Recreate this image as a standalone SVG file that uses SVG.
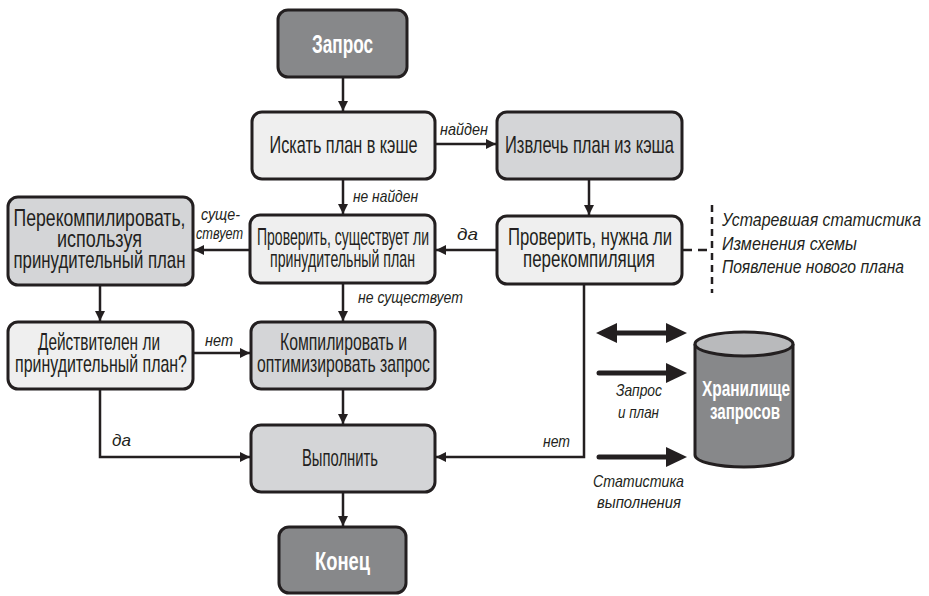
<svg xmlns="http://www.w3.org/2000/svg" width="929" height="596" viewBox="0 0 929 596">
<defs>
<style>
.box{stroke:#231f20;stroke-width:3;}
.light{fill:#efefef;}
.mid{fill:#d4d5d7;}
.dark{fill:#87888a;}
.t{font-family:"Liberation Sans",Arial,sans-serif;font-size:23px;fill:#231f20;text-anchor:middle;}
.tb{font-family:"Liberation Sans",Arial,sans-serif;font-size:25px;font-weight:bold;fill:#ffffff;text-anchor:middle;}
.lbl{font-family:"Liberation Sans",Arial,sans-serif;font-size:17px;font-style:italic;fill:#231f20;}
.note{font-family:"Liberation Sans",Arial,sans-serif;font-size:19px;font-style:italic;fill:#231f20;}
.c{fill:none;stroke:#231f20;stroke-width:2.5;}
.thick{fill:none;stroke:#231f20;stroke-width:5;stroke-linecap:round;}
</style>
<marker id="ah" markerUnits="userSpaceOnUse" markerWidth="12" markerHeight="12" viewBox="0 0 12 12" refX="11" refY="6" orient="auto">
<path d="M1,1 L11,6 L1,11 Z" fill="#231f20"/>
</marker>
</defs>
<rect width="929" height="596" fill="#ffffff"/>

<g id="connectors">
<line class="c" x1="343" y1="78" x2="343" y2="111" marker-end="url(#ah)"/>
<line class="c" x1="436" y1="144" x2="496" y2="144" marker-end="url(#ah)"/>
<line class="c" x1="343" y1="180" x2="343" y2="214" marker-end="url(#ah)"/>
<line class="c" x1="589" y1="180" x2="589" y2="215" marker-end="url(#ah)"/>
<line class="c" x1="496" y1="250" x2="436" y2="250" marker-end="url(#ah)"/>
<line class="c" x1="249" y1="250" x2="194" y2="250" marker-end="url(#ah)"/>
<line class="c" x1="100" y1="286" x2="100" y2="321" marker-end="url(#ah)"/>
<line class="c" x1="343" y1="284" x2="343" y2="321" marker-end="url(#ah)"/>
<line class="c" x1="194" y1="353" x2="250" y2="353" marker-end="url(#ah)"/>
<line class="c" x1="343" y1="390" x2="343" y2="424" marker-end="url(#ah)"/>
<path class="c" d="M100,390 V457 H250" marker-end="url(#ah)"/>
<path class="c" d="M584,285 V457 H436" marker-end="url(#ah)"/>
<line class="c" x1="343" y1="493" x2="343" y2="526" marker-end="url(#ah)"/>
<line x1="683" y1="250" x2="712" y2="250" stroke="#231f20" stroke-width="2.5" stroke-dasharray="9 6"/>
<line x1="712" y1="205" x2="712" y2="293" stroke="#231f20" stroke-width="2.5" stroke-dasharray="7 5"/>
<path d="M596,333 L617,323 L617,330.5 L666,330.5 L666,323 L687,333 L666,343 L666,335.5 L617,335.5 L617,343 Z" fill="#231f20"/>
<line class="thick" x1="599" y1="373" x2="668" y2="373"/>
<path d="M666,363 L687,373 L666,383 Z" fill="#231f20"/>
<line class="thick" x1="599" y1="457" x2="668" y2="457"/>
<path d="M666,447 L687,457 L666,467 Z" fill="#231f20"/>
</g>

<g id="labels" transform="scale(0.75 1)">
<text class="lbl" x="586.67" y="135" textLength="64" lengthAdjust="spacingAndGlyphs">найден</text>
<text class="lbl" x="470.67" y="202" textLength="86.67" lengthAdjust="spacingAndGlyphs">не найден</text>
<text class="lbl" x="268" y="220" textLength="52" lengthAdjust="spacingAndGlyphs" style="font-size:16px">суще-</text>
<text class="lbl" x="261.33" y="239" textLength="62.67" lengthAdjust="spacingAndGlyphs" style="font-size:16px">ствует</text>
<text class="lbl" x="609.33" y="240" textLength="28" lengthAdjust="spacingAndGlyphs">да</text>
<text class="lbl" x="477.33" y="303" textLength="140" lengthAdjust="spacingAndGlyphs">не существует</text>
<text class="lbl" x="273.33" y="346" textLength="37.33" lengthAdjust="spacingAndGlyphs">нет</text>
<text class="lbl" x="149.33" y="446" textLength="25.33" lengthAdjust="spacingAndGlyphs">да</text>
<text class="lbl" x="724" y="447" textLength="36" lengthAdjust="spacingAndGlyphs">нет</text>
<text class="lbl" x="821.33" y="396" textLength="61.33" lengthAdjust="spacingAndGlyphs">Запрос</text>
<text class="lbl" x="824" y="418" textLength="54.67" lengthAdjust="spacingAndGlyphs">и план</text>
<text class="lbl" x="790.67" y="487" textLength="121.33" lengthAdjust="spacingAndGlyphs">Статистика</text>
<text class="lbl" x="796" y="508" textLength="112" lengthAdjust="spacingAndGlyphs">выполнения</text>
</g>

<g id="notes" transform="scale(0.75 1)">
<text class="note" x="962.67" y="226" textLength="265.33" lengthAdjust="spacingAndGlyphs">Устаревшая статистика</text>
<text class="note" x="962.67" y="250" textLength="180" lengthAdjust="spacingAndGlyphs">Изменения схемы</text>
<text class="note" x="962.67" y="273" textLength="242.67" lengthAdjust="spacingAndGlyphs">Появление нового плана</text>
</g>

<g id="n-zapros">
<rect class="box dark" x="278" y="10" width="129" height="67" rx="10"/>
<g transform="scale(0.75 1)"><text class="tb" x="456.67" y="53" textLength="81.33" lengthAdjust="spacingAndGlyphs">Запрос</text></g>
</g>
<g id="n-iskat">
<rect class="box light" x="252" y="112" width="183" height="67" rx="10"/>
<g transform="scale(0.75 1)"><text class="t" x="458" y="153" textLength="197.33" lengthAdjust="spacingAndGlyphs">Искать план в кэше</text></g>
</g>
<g id="n-izvlech">
<rect class="box mid" x="497" y="112" width="185" height="67" rx="10"/>
<g transform="scale(0.75 1)"><text class="t" x="786" y="153" textLength="225.33" lengthAdjust="spacingAndGlyphs">Извлечь план из кэша</text></g>
</g>
<g id="n-perekomp">
<rect class="box mid" x="8" y="197" width="185" height="88" rx="10"/>
<g transform="scale(0.75 1)">
<text class="t" x="132.67" y="226" textLength="229.33" lengthAdjust="spacingAndGlyphs">Перекомпилировать,</text>
<text class="t" x="132.67" y="247" textLength="113.33" lengthAdjust="spacingAndGlyphs">используя</text>
<text class="t" x="132.67" y="268" textLength="229.33" lengthAdjust="spacingAndGlyphs">принудительный план</text>
</g>
</g>
<g id="n-proverit-sushch">
<rect class="box light" x="250" y="215" width="185" height="68" rx="10"/>
<g transform="scale(0.75 1)">
<text class="t" x="457.33" y="245" textLength="229.33" lengthAdjust="spacingAndGlyphs">Проверить, существует ли</text>
<text class="t" x="456.67" y="267" textLength="193.33" lengthAdjust="spacingAndGlyphs">принудительный план</text>
</g>
</g>
<g id="n-proverit-nuzhna">
<rect class="box light" x="497" y="216" width="185" height="68" rx="10"/>
<g transform="scale(0.75 1)">
<text class="t" x="786.67" y="245" textLength="218.67" lengthAdjust="spacingAndGlyphs">Проверить, нужна ли</text>
<text class="t" x="785.33" y="267" textLength="176" lengthAdjust="spacingAndGlyphs">перекомпиляция</text>
</g>
</g>
<g id="n-deistv">
<rect class="box light" x="8" y="322" width="185" height="67" rx="10"/>
<g transform="scale(0.75 1)">
<text class="t" x="132" y="350" textLength="162.67" lengthAdjust="spacingAndGlyphs">Действителен ли</text>
<text class="t" x="134.67" y="372" textLength="229.33" lengthAdjust="spacingAndGlyphs">принудительный план?</text>
</g>
</g>
<g id="n-kompil">
<rect class="box mid" x="251" y="322" width="184" height="67" rx="10"/>
<g transform="scale(0.75 1)">
<text class="t" x="458" y="350" textLength="169.33" lengthAdjust="spacingAndGlyphs">Компилировать и</text>
<text class="t" x="458" y="372" textLength="230.67" lengthAdjust="spacingAndGlyphs">оптимизировать запрос</text>
</g>
</g>
<g id="n-vypolnit">
<rect class="box mid" x="251" y="425" width="184" height="67" rx="10"/>
<g transform="scale(0.75 1)"><text class="t" x="453.33" y="466" textLength="101.33" lengthAdjust="spacingAndGlyphs">Выполнить</text></g>
</g>
<g id="n-konec">
<rect class="box dark" x="279" y="527" width="127" height="66" rx="10"/>
<g transform="scale(0.75 1)"><text class="tb" x="456.67" y="570" textLength="73.33" lengthAdjust="spacingAndGlyphs">Конец</text></g>
</g>
<g id="n-store">
<path d="M695,344 V455 A49,12 0 0 0 793,455 V344" fill="#87888a" stroke="#231f20" stroke-width="3"/>
<ellipse cx="744" cy="344" rx="49" ry="12" fill="#b9babc" stroke="#231f20" stroke-width="3"/>
<g transform="scale(0.75 1)">
<text class="tb" x="994.67" y="396" textLength="117.33" lengthAdjust="spacingAndGlyphs" style="font-size:22px">Хранилище</text>
<text class="tb" x="993.33" y="419" textLength="93.33" lengthAdjust="spacingAndGlyphs" style="font-size:22px">запросов</text>
</g>
</g>
</svg>
